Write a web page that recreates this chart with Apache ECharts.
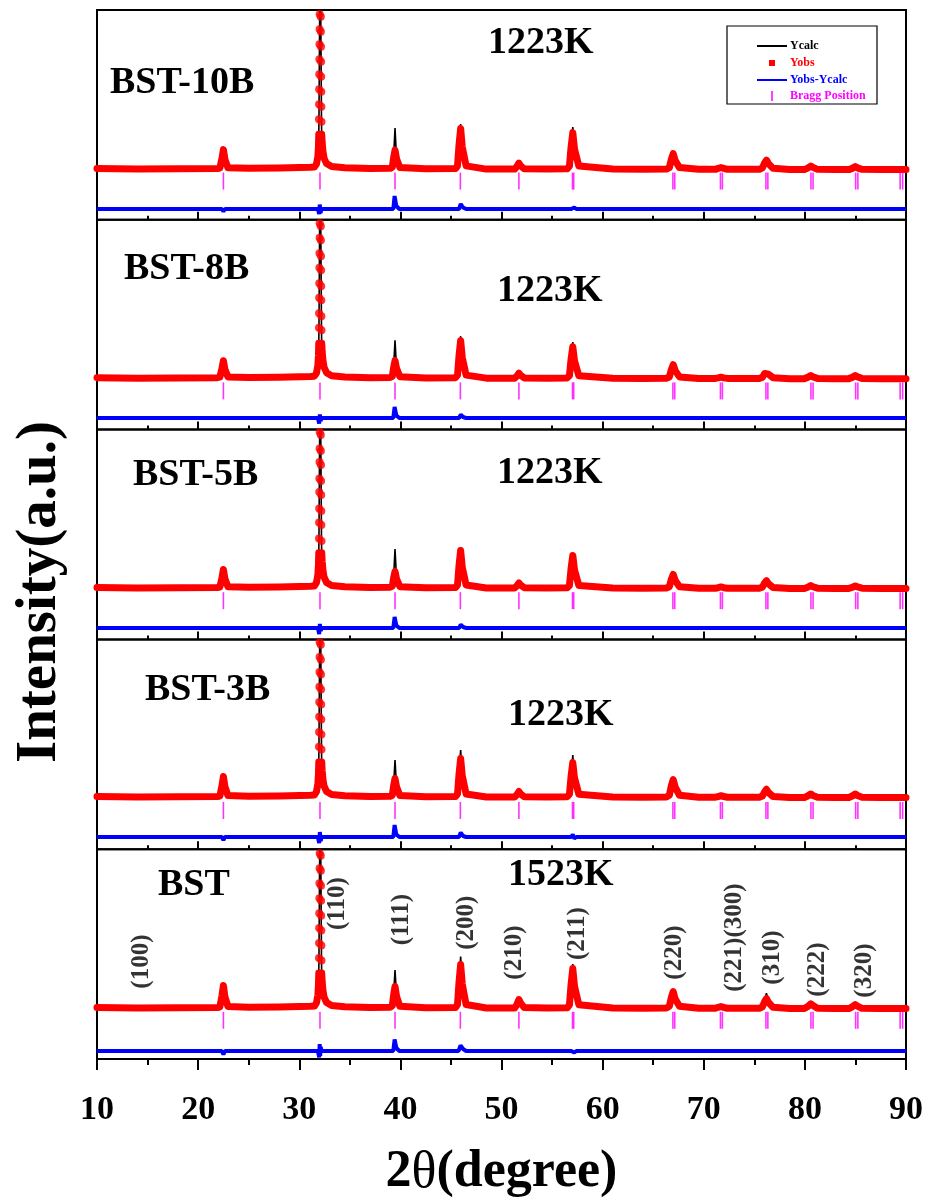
<!DOCTYPE html>
<html>
<head>
<meta charset="utf-8">
<title>BST Rietveld refinement</title>
<script src="https://cdn.jsdelivr.net/npm/echarts@6/dist/echarts.min.js"></script>
<style>
  html, body { margin: 0; padding: 0; background: #fff; }
  #chart { width: 930px; height: 1202px; }
</style>
</head>
<body>
<div id="chart"></div>
<script>
// 2θ points the patterns were read at (deg)
const twoTheta = [
  10, 14, 18, 21.9,
  22.15, 22.36, 22.5, 22.65, 22.95,
  25, 28, 31.1,
  31.5, 31.7, 31.84, 31.9, 31.93, 31.95, 31.96, 31.97, 31.98, 31.99, 32.0, 32.01, 32.02, 32.07,
  32.12, 32.13, 32.14, 32.15, 32.16, 32.17, 32.18, 32.19, 32.2, 32.22, 32.27, 32.34, 32.45, 32.7, 33.2,
  34.5, 37, 39.0,
  39.2, 39.33, 39.47, 39.62, 39.95,
  42.5, 45.45,
  45.65, 45.8, 45.96, 46.12, 46.5,
  48.5, 51.3,
  51.52, 51.72, 51.9, 52.25,
  54.5, 56.5,
  56.72, 56.88, 57.05, 57.22, 57.65,
  61, 64, 66.3,
  66.6, 66.8, 66.98, 67.18, 67.6,
  69.5, 71.15,
  71.42, 71.7, 71.98, 72.35,
  74, 75.5,
  75.8, 76.02, 76.2, 76.4, 76.85,
  78.5, 79.95,
  80.28, 80.58, 80.8, 81.25,
  83, 84.35,
  84.68, 84.98, 85.2, 85.65,
  87.5, 90
];

// Yobs for each sample, same order as twoTheta (a.u.)
const obs10B = [
  1025, 1015, 1020, 1025,
  1035, 1230, 1405, 1210, 1040,
  1030, 1035, 1050,
  1055, 1115, 1265, 1465, 1715, 2015, 2315, 2615, 2915, 3215, 3515, 3815, 4115, 6215,
  4365, 4065, 3765, 3465, 3165, 2865, 2565, 2265, 1965, 1715, 1535, 1375, 1235, 1125, 1065,
  1040, 1025, 1030,
  1053, 1243, 1395, 1224, 1045,
  1020, 1025,
  1080, 1500, 1825, 1460, 1080,
  1015, 1015,
  1065, 1135, 1080, 1020,
  1015, 1020,
  1075, 1455, 1745, 1415, 1075,
  1015, 1010, 1015,
  1045, 1215, 1325, 1185, 1045,
  1010, 1010,
  1030, 1045, 1030, 1010,
  1010, 1010,
  1040, 1140, 1195, 1125, 1030,
  1005, 1005,
  1035, 1075, 1050, 1010,
  1005, 1005,
  1030, 1065, 1040, 1010,
  1005, 1005
];
const obs8B = [
  1040, 1030, 1035, 1040,
  1050, 1225, 1380, 1205, 1055,
  1045, 1050, 1065,
  1070, 1130, 1280, 1480, 1730, 2040, 2330, 2640, 2930, 3240, 3530, 3840, 4130, 6230,
  4390, 4070, 3790, 3470, 3190, 2870, 2590, 2270, 1990, 1730, 1550, 1390, 1250, 1140, 1080,
  1055, 1040, 1045,
  1065, 1240, 1380, 1225, 1060,
  1035, 1040,
  1090, 1480, 1780, 1445, 1090,
  1030, 1030,
  1070, 1130, 1085, 1035,
  1030, 1035,
  1080, 1410, 1660, 1375, 1080,
  1030, 1025, 1030,
  1055, 1205, 1300, 1180, 1055,
  1025, 1025,
  1035, 1050, 1035, 1025,
  1025, 1025,
  1045, 1125, 1165, 1110, 1040,
  1020, 1020,
  1045, 1080, 1055, 1025,
  1020, 1020,
  1045, 1080, 1055, 1025,
  1020, 1020
];
const obs5B = [
  1040, 1030, 1035, 1040,
  1050, 1235, 1400, 1215, 1055,
  1045, 1050, 1065,
  1070, 1135, 1290, 1490, 1735, 2020, 2340, 2620, 2950, 3220, 3550, 3820, 4150, 6230,
  4380, 4090, 3770, 3490, 3170, 2890, 2570, 2290, 1970, 1735, 1555, 1390, 1250, 1140, 1080,
  1055, 1040, 1045,
  1065, 1230, 1360, 1210, 1055,
  1035, 1040,
  1090, 1480, 1780, 1445, 1090,
  1030, 1030,
  1070, 1130, 1085, 1035,
  1030, 1035,
  1080, 1420, 1680, 1390, 1080,
  1030, 1025, 1030,
  1055, 1205, 1300, 1180, 1055,
  1025, 1025,
  1035, 1050, 1035, 1025,
  1025, 1025,
  1045, 1130, 1175, 1115, 1040,
  1020, 1020,
  1045, 1080, 1055, 1025,
  1020, 1020,
  1040, 1070, 1050, 1025,
  1020, 1020
];
const obs3B = [
  1055, 1045, 1050, 1055,
  1065, 1270, 1455, 1250, 1075,
  1060, 1065, 1080,
  1085, 1150, 1300, 1500, 1745, 2050, 2345, 2650, 2945, 3250, 3545, 3850, 4145, 6245,
  4395, 4095, 3795, 3495, 3195, 2895, 2595, 2295, 1995, 1745, 1565, 1405, 1265, 1155, 1095,
  1070, 1055, 1060,
  1080, 1265, 1415, 1250, 1075,
  1050, 1055,
  1105, 1505, 1815, 1470, 1105,
  1045, 1045,
  1090, 1155, 1105, 1050,
  1045, 1050,
  1100, 1460, 1735, 1425, 1100,
  1045, 1040, 1045,
  1080, 1275, 1395, 1240, 1080,
  1040, 1040,
  1055, 1070, 1055, 1040,
  1040, 1040,
  1065, 1150, 1200, 1135, 1055,
  1035, 1035,
  1065, 1105, 1075, 1040,
  1035, 1035,
  1065, 1105, 1075, 1040,
  1035, 1035
];
const obsBST = [
  1030, 1020, 1025, 1030,
  1045, 1270, 1470, 1245, 1050,
  1035, 1040, 1055,
  1060, 1125, 1275, 1475, 1720, 2020, 2320, 2620, 2920, 3220, 3520, 3820, 4120, 6420,
  4370, 4070, 3770, 3470, 3170, 2870, 2570, 2270, 1970, 1720, 1540, 1380, 1240, 1130, 1070,
  1045, 1030, 1035,
  1065, 1280, 1450, 1255, 1055,
  1025, 1030,
  1090, 1540, 1890, 1500, 1090,
  1020, 1020,
  1090, 1190, 1115, 1030,
  1020, 1025,
  1085, 1495, 1810, 1455, 1085,
  1020, 1015, 1020,
  1055, 1235, 1350, 1200, 1055,
  1015, 1015,
  1035, 1050, 1035, 1015,
  1015, 1015,
  1045, 1150, 1210, 1135, 1035,
  1010, 1010,
  1050, 1105, 1070, 1015,
  1010, 1010,
  1045, 1090, 1060, 1015,
  1010, 1010
];

// Ycalc peak tops where the black line pokes out above Yobs [2θ, a.u.]
const calc10B = [[22.5, 1420], [39.47, 1835], [45.96, 1915], [57.05, 1855], [66.98, 1345], [76.2, 1215]];
const calc8B = [[39.47, 1790], [45.96, 1870], [57.05, 1750]];
const calc5B = [[39.47, 1810], [45.96, 1850], [57.05, 1730]];
const calc3B = [[39.47, 1785], [45.96, 1985], [57.05, 1885], [76.2, 1245]];
const calcBST = [[22.5, 1490], [39.47, 1780], [45.96, 2050], [57.05, 1900], [76.2, 1320]];

// Yobs-Ycalc [2θ, a.u.]
const diff10B = [[10, 0], [22.35, 0], [22.5, -50], [22.65, 0], [31.85, 0], [31.97, -100], [32.03, 90], [32.1, -80], [32.2, 0],
  [39.3, 0], [39.43, 260], [39.6, 60], [39.9, 0], [45.8, 0], [45.97, 100], [46.2, 30], [46.5, 0],
  [56.9, 0], [57.05, -40], [57.2, 30], [57.4, 0], [90, 0]];
const diff8B = [[10, 0], [31.85, 0], [31.97, -110], [32.04, 70], [32.12, -60], [32.2, 0],
  [39.3, 0], [39.43, 220], [39.6, 50], [39.9, 0], [45.8, 0], [45.97, 70], [46.2, 20], [46.5, 0], [90, 0]];
const diff5B = [[10, 0], [31.85, 0], [31.97, -120], [32.04, 80], [32.12, -60], [32.2, 0],
  [39.3, 0], [39.43, 220], [39.6, 50], [39.9, 0], [45.8, 0], [45.97, 70], [46.2, 20], [46.5, 0], [90, 0]];
const diff3B = [[10, 0], [22.35, 0], [22.5, -60], [22.65, 0], [31.85, 0], [31.97, -120], [32.04, 100], [32.12, -80], [32.2, 0],
  [39.3, 0], [39.43, 240], [39.6, 50], [39.9, 0], [45.8, 0], [45.97, 90], [46.2, 20], [46.5, 0],
  [56.9, 0], [57.05, 50], [57.2, -30], [57.4, 0], [90, 0]];
const diffBST = [[10, 0], [22.35, 0], [22.5, -70], [22.65, 0], [31.85, 0], [31.97, -130], [32.02, 140], [32.07, -100], [32.12, 80], [32.2, 0],
  [39.3, 0], [39.43, 230], [39.6, 60], [39.9, 0], [45.75, 0], [45.95, 110], [46.2, 40], [46.5, 0],
  [56.9, 0], [57.05, 40], [57.2, -30], [57.4, 0], [90, 0]];

// Bragg reflections (Kα1 / Kα2) in 2θ
const braggPos = [22.5, 32.05, 39.47, 45.93, 51.72, 57.02, 57.14, 66.95, 67.13, 71.65, 71.84,
  76.15, 76.34, 80.6, 80.81, 85.02, 85.24, 89.42, 89.67];

// hkl labels on the BST panel, anchored at [2θ, a.u.]
const hklText = ['(100)', '(110)', '(111)', '(200)', '(210)', '(211)', '(220)', '(221)(300)', '(310)', '(222)', '(320)'];
const hklAt = [[14.37, 1950], [33.8, 3110], [40.1, 2790], [46.53, 2730], [51.31, 2130], [57.55, 2510],
  [67.14, 2130], [73.08, 2430], [76.84, 2030], [81.29, 1790], [85.94, 1770]];

const sampleNames = ['BST-10B', 'BST-8B', 'BST-5B', 'BST-3B', 'BST'];
const sinterTemps = ['1223K', '1223K', '1223K', '1223K', '1523K'];

const panels = [
  { obs: obs10B, calc: calc10B, diff: diff10B, diffZero: 216 },
  { obs: obs8B, calc: calc8B, diff: diff8B, diffZero: 232 },
  { obs: obs5B, calc: calc5B, diff: diff5B, diffZero: 228 },
  { obs: obs3B, calc: calc3B, diff: diff3B, diffZero: 244 },
  { obs: obsBST, calc: calcBST, diff: diffBST, diffZero: 160 }
];
// where the sample / temperature captions sit (px)
const namePos = [[110, 83], [124, 269], [133, 475], [145, 690], [158, 885]];
const tempPos = [[488, 43], [497, 291], [497, 473], [508, 715], [508, 875]];

const FONT = '"Liberation Serif", "Times New Roman", serif';
const GRID_LEFT = 97, GRID_W = 809, TOP0 = 10, PANEL_H = 209.8;
const Y_MAX = 4200;
const BRAGG_LEVEL = 775;

const chart = echarts.init(document.getElementById('chart'));

const grids = [], xAxes = [], yAxes = [], series = [];
panels.forEach((p, i) => {
  const last = i === panels.length - 1;
  grids.push({
    left: GRID_LEFT, width: GRID_W, top: TOP0 + i * PANEL_H, height: PANEL_H,
    show: true, borderColor: '#000', borderWidth: 2, backgroundColor: 'transparent',
    containLabel: false, outerBoundsMode: 'none'
  });
  xAxes.push({
    gridIndex: i, type: 'value', min: 10, max: 90, interval: 10,
    axisLine: { show: false },
    axisTick: { show: true, inside: !last, length: last ? 11 : 8, lineStyle: { color: '#000', width: 2 } },
    minorTick: { show: true, splitNumber: 2, length: last ? 6 : 4, lineStyle: { color: '#000', width: 2 } },
    splitLine: { show: false },
    axisLabel: {
      show: last, margin: 34, color: '#000', fontFamily: FONT, fontWeight: 'bold', fontSize: 34,
      showMinLabel: true, showMaxLabel: true
    },
    name: last ? '{a|2}{b|θ}{a|(degree)}' : '',
    nameLocation: 'middle',
    nameGap: 88,
    nameTextStyle: {
      rich: {
        a: { fontFamily: FONT, fontWeight: 'bold', fontSize: 52, color: '#000' },
        b: { fontFamily: FONT, fontSize: 52, color: '#000' }
      }
    }
  });
  yAxes.push({ gridIndex: i, type: 'value', min: 0, max: Y_MAX, show: false });

  const obsPts = twoTheta.map((x, k) => [x, p.obs[k]]);
  const tips = new Map(p.calc.map(d => [d[0], d[1]]));
  const calcPts = twoTheta.map((x, k) => [x, tips.has(x) ? tips.get(x) : p.obs[k]]);
  // the steep (110) flank is drawn as separate observed points
  const dotCut = p.obs[0] + 710;
  const isDot = d => d[0] > 31.9 && d[0] < 32.3 && d[1] > dotCut;

  series.push(
    {
      name: 'Ycalc', type: 'line', xAxisIndex: i, yAxisIndex: i, data: calcPts,
      showSymbol: false, symbol: 'none', lineStyle: { color: '#000', width: 1.6 }, z: 2
    },
    {
      name: 'Yobs', type: 'line', xAxisIndex: i, yAxisIndex: i, data: obsPts.filter(d => !isDot(d)),
      showSymbol: false, symbol: 'none', lineStyle: { color: '#ff0000', width: 7, join: 'round', cap: 'round' }, z: 3
    },
    {
      name: 'Yobs', type: 'scatter', xAxisIndex: i, yAxisIndex: i, data: obsPts.filter(isDot),
      symbol: 'circle', symbolSize: 8, itemStyle: { color: '#ff0000' }, z: 4
    },
    {
      name: 'Yobs-Ycalc', type: 'line', xAxisIndex: i, yAxisIndex: i,
      data: p.diff.map(d => [d[0], d[1] + p.diffZero]),
      showSymbol: false, symbol: 'none', lineStyle: { color: '#0000ff', width: 4 }, z: 3
    },
    {
      name: 'Bragg Position', type: 'scatter', xAxisIndex: i, yAxisIndex: i,
      data: braggPos.map(x => [x, BRAGG_LEVEL]),
      symbol: 'rect', symbolSize: [1.6, 17], itemStyle: { color: '#ff00ff' }, z: 3
    }
  );
});

series.push({
  type: 'scatter', xAxisIndex: 4, yAxisIndex: 4, silent: true, z: 5,
  symbolSize: 1, itemStyle: { color: 'transparent' },
  data: hklText.map((t, k) => ({ name: t, value: hklAt[k] })),
  label: {
    show: true, formatter: '{b}', position: 'inside', rotate: 90,
    fontFamily: FONT, fontWeight: 'bold', fontSize: 25, color: '#000'
  }
});

const captionFont = 'bold 38px ' + FONT;
const graphic = [];
sampleNames.forEach((s, i) => {
  graphic.push({ type: 'text', x: namePos[i][0], y: namePos[i][1], style: { text: s, font: captionFont, fill: '#000', align: 'left', verticalAlign: 'middle' } });
  graphic.push({ type: 'text', x: tempPos[i][0], y: tempPos[i][1], style: { text: sinterTemps[i], font: captionFont, fill: '#000', align: 'left', verticalAlign: 'middle' } });
});
graphic.push({
  type: 'text', x: 40, y: 592, rotation: Math.PI / 2,
  style: { text: 'Intensity(a.u.)', font: 'bold 57px ' + FONT, fill: '#000', align: 'center', verticalAlign: 'middle' }
});

// legend box
const legFont = 'bold 12px ' + FONT;
graphic.push(
  { type: 'rect', shape: { x: 727, y: 26, width: 150, height: 78 }, style: { fill: '#fff', stroke: '#000', lineWidth: 1.2 }, z: 10 },
  { type: 'line', shape: { x1: 757, y1: 46, x2: 787, y2: 46 }, style: { stroke: '#000', lineWidth: 2 }, z: 11 },
  { type: 'text', x: 790, y: 46, style: { text: 'Ycalc', font: legFont, fill: '#000', verticalAlign: 'middle' }, z: 11 },
  { type: 'rect', shape: { x: 769, y: 60, width: 6, height: 6 }, style: { fill: '#ff0000' }, z: 11 },
  { type: 'text', x: 790, y: 63, style: { text: 'Yobs', font: legFont, fill: '#ff0000', verticalAlign: 'middle' }, z: 11 },
  { type: 'line', shape: { x1: 757, y1: 80, x2: 787, y2: 80 }, style: { stroke: '#0000ff', lineWidth: 2 }, z: 11 },
  { type: 'text', x: 790, y: 80, style: { text: 'Yobs-Ycalc', font: legFont, fill: '#0000ff', verticalAlign: 'middle' }, z: 11 },
  { type: 'line', shape: { x1: 772, y1: 91, x2: 772, y2: 101 }, style: { stroke: '#ff00ff', lineWidth: 1.5 }, z: 11 },
  { type: 'text', x: 790, y: 96, style: { text: 'Bragg Position', font: legFont, fill: '#ff00ff', verticalAlign: 'middle' }, z: 11 }
);

chart.setOption({
  animation: false,
  backgroundColor: '#fff',
  grid: grids,
  xAxis: xAxes,
  yAxis: yAxes,
  series: series,
  graphic: graphic
});
</script>
</body>
</html>
